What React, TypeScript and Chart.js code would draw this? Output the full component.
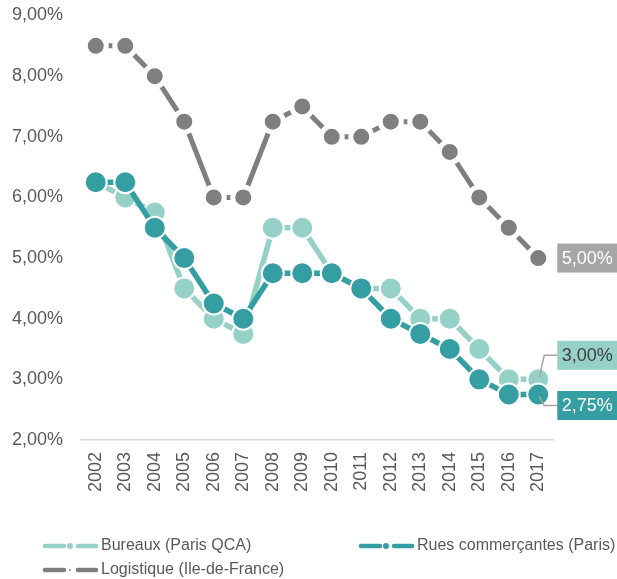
import React, { useEffect, useRef } from "react";
import { Chart, registerables } from "chart.js";

Chart.register(...registerables);

const years = ["2002", "2003", "2004", "2005", "2006", "2007", "2008", "2009", "2010", "2011", "2012", "2013", "2014", "2015", "2016", "2017"];
const bureaux = [6.25, 6.0, 5.75, 4.5, 4.0, 3.75, 5.5, 5.5, 4.75, 4.5, 4.5, 4.0, 4.0, 3.5, 3.0, 3.0];
const rues = [6.25, 6.25, 5.5, 5.0, 4.25, 4.0, 4.75, 4.75, 4.75, 4.5, 4.0, 3.75, 3.5, 3.0, 2.75, 2.75];
const logistique = [8.5, 8.5, 8.0, 7.25, 6.0, 6.0, 7.25, 7.5, 7.0, 7.0, 7.25, 7.25, 6.75, 6.0, 5.5, 5.0];
const seriesNames = ["Bureaux (Paris QCA)", "Rues commerçantes (Paris)", "Logistique (Ile-de-France)"];
const yMin = 2;
const yMax = 9;
const yStep = 1;

const C_LIGHT = "#96D1C8";
const C_DARK = "#349EA3";
const C_GREY = "#7F7F7F";
const C_LABEL_GREY = "#A6A6A6";
const TEXT = "#595959";
const FONT = "'Liberation Sans', Arial, sans-serif";

const fmt = (v: number) => v.toFixed(2).replace(".", ",") + "%";

const endLabelsPlugin = {
  id: "endLabels",
  afterDatasetsDraw(chart: any) {
    const ctx = chart.ctx;
    const xs = chart.scales.x;
    const ys = chart.scales.y;
    const last = years.length - 1;
    const px = xs.getPixelForValue(last);
    const boxLeft = px + 19;
    const boxW = 60;
    const boxH = 29;
    const specs = [
      { data: logistique, fill: C_LABEL_GREY, text: "#FFFFFF", dy: 0, leader: false },
      { data: bureaux, fill: C_LIGHT, text: "#404040", dy: -24, leader: true },
      { data: rues, fill: C_DARK, text: "#FFFFFF", dy: 11, leader: true },
    ];
    ctx.save();
    specs.forEach((s) => {
      const v = s.data[last];
      const py = ys.getPixelForValue(v);
      const cy = py + s.dy;
      if (s.leader) {
        ctx.strokeStyle = C_LABEL_GREY;
        ctx.lineWidth = 1.5;
        ctx.beginPath();
        ctx.moveTo(px + 1, py + (s.dy < 0 ? -2 : 2));
        ctx.lineTo(px + 6, cy);
        ctx.lineTo(boxLeft, cy);
        ctx.stroke();
      }
      ctx.fillStyle = s.fill;
      ctx.fillRect(boxLeft, cy - boxH / 2, boxW, boxH);
      ctx.fillStyle = s.text;
      ctx.font = `18px ${FONT}`;
      ctx.textAlign = "center";
      ctx.textBaseline = "middle";
      ctx.fillText(fmt(v), boxLeft + boxW / 2, cy + 1);
    });
    ctx.restore();
  },
  afterDraw(chart: any) {
    const ctx = chart.ctx;
    const items = [
      { name: seriesNames[0], color: C_LIGHT, x: 43, y: 546, dot: 3 },
      { name: seriesNames[1], color: C_DARK, x: 359, y: 546, dot: 3 },
      { name: seriesNames[2], color: C_GREY, x: 43, y: 570, dot: 1 },
    ];
    ctx.save();
    items.forEach((it) => {
      ctx.strokeStyle = it.color;
      ctx.lineWidth = 4.5;
      ctx.lineCap = "round";
      ctx.beginPath();
      ctx.moveTo(it.x + 2, it.y);
      ctx.lineTo(it.x + 21, it.y);
      ctx.moveTo(it.x + 35, it.y);
      ctx.lineTo(it.x + 53, it.y);
      ctx.stroke();
      ctx.fillStyle = it.color;
      ctx.beginPath();
      ctx.arc(it.x + 27, it.y, it.dot, 0, Math.PI * 2);
      ctx.fill();
      ctx.fillStyle = TEXT;
      ctx.font = `16px ${FONT}`;
      ctx.textAlign = "left";
      ctx.textBaseline = "middle";
      ctx.fillText(it.name, it.x + 58, it.y);
    });
    ctx.restore();
  },
};

export default function App() {
  const ref = useRef<HTMLCanvasElement | null>(null);

  useEffect(() => {
    document.body.style.margin = "0";
    const canvas = ref.current;
    if (!canvas) return;
    const chart = new Chart(canvas, {
      type: "line",
      data: {
        labels: years,
        datasets: [
          {
            label: seriesNames[0],
            data: bureaux,
            borderColor: C_LIGHT,
            backgroundColor: C_LIGHT,
            borderWidth: 5.5,
            pointRadius: 11,
            pointBorderWidth: 2,
            pointBorderColor: "#FFFFFF",
            pointBackgroundColor: C_LIGHT,
            tension: 0,
            order: 1,
          },
          {
            label: seriesNames[1],
            data: rues,
            borderColor: C_DARK,
            backgroundColor: C_DARK,
            borderWidth: 5.5,
            pointRadius: 11,
            pointBorderWidth: 2,
            pointBorderColor: "#FFFFFF",
            pointBackgroundColor: C_DARK,
            tension: 0,
            order: 0,
          },
          {
            label: seriesNames[2],
            data: logistique,
            borderColor: C_GREY,
            backgroundColor: C_GREY,
            borderWidth: 5,
            pointRadius: 10.5,
            pointBorderWidth: 5,
            pointBorderColor: "#FFFFFF",
            pointBackgroundColor: C_GREY,
            tension: 0,
            order: 2,
          },
        ],
      },
      options: {
        responsive: false,
        animation: false,
        events: [],
        layout: { padding: { top: 0, right: 64, left: 0, bottom: 0 } },
        plugins: {
          legend: { display: false },
          tooltip: { enabled: false },
          title: { display: false },
        },
        scales: {
          x: {
            offset: true,
            grid: { display: false, drawTicks: false },
            border: { display: true, color: "#D9D9D9", width: 1.5 },
            ticks: {
              minRotation: 90,
              maxRotation: 90,
              padding: 12,
              color: TEXT,
              font: { family: FONT, size: 18 },
            },
            afterFit(scale: any) {
              scale.height = 139;
            },
          },
          y: {
            min: yMin,
            max: yMax,
            grid: { display: false, drawTicks: false },
            border: { display: false },
            ticks: {
              stepSize: yStep,
              padding: 18,
              color: TEXT,
              font: { family: FONT, size: 18 },
              callback: (v: any) => fmt(Number(v)),
            },
            afterFit(scale: any) {
              scale.width = 81;
              scale.paddingTop = 14;
              scale.paddingBottom = 0;
            },
          },
        },
      },
      plugins: [endLabelsPlugin],
    });
    return () => chart.destroy();
  }, []);

  return (
    <div style={{ position: "absolute", left: 0, top: 0, width: 617, height: 579, background: "#FFFFFF" }}>
      <canvas ref={ref} width={617} height={579} />
    </div>
  );
}
